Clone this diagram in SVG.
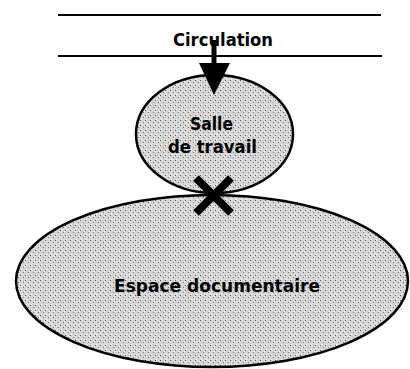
<svg xmlns="http://www.w3.org/2000/svg" width="410" height="369" viewBox="0 0 410 369">
<style>
.lbl{font-family:"DejaVu Sans","Liberation Sans",sans-serif;font-weight:bold;font-size:17px;fill:#000;text-anchor:middle}
.room{fill:url(#stip);stroke:#000;stroke-width:2.5}
.rule{stroke:#000;stroke-width:2}
</style>
<defs>
<pattern id="stip" width="5" height="5" patternUnits="userSpaceOnUse">
<rect width="5" height="5" fill="#d6d6d6"/>
<rect x="0" y="0" width="1" height="1" fill="#555"/>
<rect x="3" y="2" width="1" height="1" fill="#777"/>
<rect x="1" y="4" width="1" height="1" fill="#fff"/>
<rect x="4" y="1" width="1" height="1" fill="#fff"/>
</pattern>
</defs>
<g id="circulation">
<line class="rule" x1="58" y1="15" x2="381" y2="15"/>
<line class="rule" x1="58" y1="56" x2="382" y2="56"/>
<text class="lbl" x="223" y="46" textLength="100" lengthAdjust="spacingAndGlyphs">Circulation</text>
</g>
<g id="espace">
<ellipse class="room" cx="212" cy="281" rx="196" ry="86"/>
<text class="lbl" x="217" y="292" textLength="206" lengthAdjust="spacingAndGlyphs">Espace documentaire</text>
</g>
<g id="salle">
<ellipse class="room" cx="214.5" cy="134" rx="78.5" ry="59"/>
<text class="lbl" x="211.5" y="130" textLength="43" lengthAdjust="spacingAndGlyphs">Salle</text>
<text class="lbl" x="212.5" y="153" textLength="89" lengthAdjust="spacingAndGlyphs">de travail</text>
</g>
<g id="connectors">
<line x1="214" y1="40" x2="214" y2="64" stroke="#000" stroke-width="5"/>
<path d="M199,63 L230,63 L214,95 Z" fill="#000"/>
<g stroke="#000" stroke-width="8" stroke-linecap="butt">
<line x1="196" y1="178" x2="231" y2="213"/>
<line x1="231" y1="178" x2="196" y2="213"/>
</g>
</g>
</svg>
